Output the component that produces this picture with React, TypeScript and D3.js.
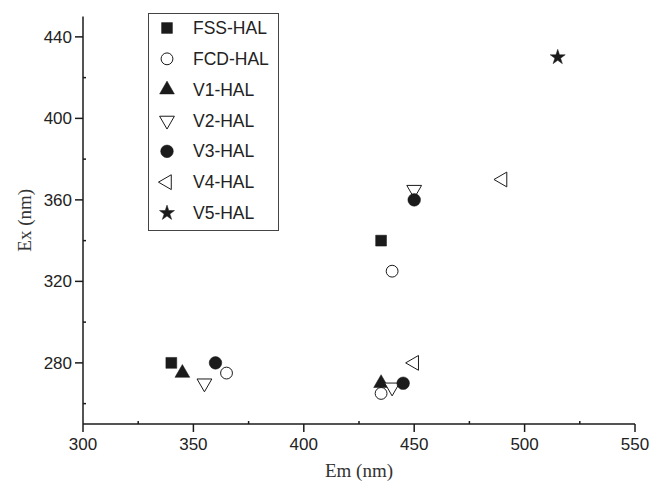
import React from "react";
import * as d3 from "d3";

// series: emission (x) / excitation (y) pairs
const seriesNames = ["FSS-HAL", "FCD-HAL", "V1-HAL", "V2-HAL", "V3-HAL", "V4-HAL", "V5-HAL"];
const emFSS = [340, 435];
const exFSS = [280, 340];
const emFCD = [365, 440, 435];
const exFCD = [275, 325, 265];
const emV1 = [345, 435];
const exV1 = [275, 270];
const emV2 = [355, 450, 440];
const exV2 = [270, 365, 268];
const emV3 = [360, 450, 445];
const exV3 = [280, 360, 270];
const emV4 = [490, 450];
const exV4 = [370, 280];
const emV5 = [515];
const exV5 = [430];

const xTicks = [300, 350, 400, 450, 500, 550];
const yTicks = [280, 320, 360, 400, 440];

const W = 655;
const H = 484;
const INK = "#1b1b1b";

type Marker = { type: d3.SymbolType; size: number; rotate: number; filled: boolean };
const markers: Marker[] = [
  { type: d3.symbolSquare, size: 118, rotate: 0, filled: true },
  { type: d3.symbolCircle, size: 110, rotate: 0, filled: false },
  { type: d3.symbolTriangle, size: 95, rotate: 0, filled: true },
  { type: d3.symbolTriangle, size: 95, rotate: 180, filled: false },
  { type: d3.symbolCircle, size: 125, rotate: 0, filled: true },
  { type: d3.symbolTriangle, size: 95, rotate: -90, filled: false },
  { type: d3.symbolStar, size: 70, rotate: 0, filled: true },
];

const series = [
  [emFSS, exFSS],
  [emFCD, exFCD],
  [emV1, exV1],
  [emV2, exV2],
  [emV3, exV3],
  [emV4, exV4],
  [emV5, exV5],
].map(([em, ex], i) => ({
  name: seriesNames[i],
  pts: em.map((e, j) => ({ em: e, ex: ex[j] })),
  m: markers[i],
}));

function Sym({ m, x, y }: { m: Marker; x: number; y: number }) {
  const d = d3.symbol().type(m.type).size(m.size)() as string;
  return (
    <path
      d={d}
      transform={`translate(${x},${y}) rotate(${m.rotate})`}
      fill={m.filled ? INK : "#fff"}
      stroke={INK}
      strokeWidth={m.filled ? 0.5 : 1}
    />
  );
}

export default function App() {
  const x = d3.scaleLinear().domain([300, 550]).range([83, 635]);
  const y = d3.scaleLinear().domain([250, 450]).range([424, 16.5]);
  const xMinor = d3.range(325, 550, 50);
  const yMinor = d3.range(260, 450, 40).filter((v) => !yTicks.includes(v));

  const legendY = d3.scalePoint<string>().domain(seriesNames).range([28, 213]);
  const axisFont = "'Liberation Sans', Arial, sans-serif";
  const titleFont = "'Liberation Serif', 'Times New Roman', serif";

  return (
    <svg
      width={W}
      height={H}
      style={{ position: "absolute", left: 0, top: 0, background: "#fff" }}
    >
      {/* axes */}
      <g stroke={INK} strokeWidth={1.5}>
        <line x1={x(300)} x2={x(550)} y1={y(250)} y2={y(250)} />
        <line x1={x(300)} x2={x(300)} y1={y(250)} y2={y(450)} />
        {xTicks.map((t) => (
          <line key={t} x1={x(t)} x2={x(t)} y1={y(250)} y2={y(250) + 8} />
        ))}
        {xMinor.map((t) => (
          <line key={t} x1={x(t)} x2={x(t)} y1={y(250)} y2={y(250) - 3} />
        ))}
        {yTicks.map((t) => (
          <line key={t} x1={x(300)} x2={x(300) - 8} y1={y(t)} y2={y(t)} />
        ))}
        {yMinor.map((t) => (
          <line key={t} x1={x(300)} x2={x(300) + 3} y1={y(t)} y2={y(t)} />
        ))}
      </g>
      <g fontFamily={axisFont} fontSize={17} fill="#222">
        {xTicks.map((t) => (
          <text key={t} x={x(t)} y={y(250) + 26} textAnchor="middle">
            {t}
          </text>
        ))}
        {yTicks.map((t) => (
          <text key={t} x={x(300) - 11} y={y(t) + 6} textAnchor="end">
            {t}
          </text>
        ))}
      </g>
      <text
        x={(x(300) + x(550)) / 2}
        y={477}
        textAnchor="middle"
        fontFamily={titleFont}
        fontSize={19}
        fill="#333"
      >
        Em (nm)
      </text>
      <text
        transform={`translate(31,${(y(250) + y(450)) / 2}) rotate(-90)`}
        textAnchor="middle"
        fontFamily={titleFont}
        fontSize={19}
        fill="#333"
      >
        Ex (nm)
      </text>

      {/* points */}
      {series.map((s) =>
        s.pts.map((p, j) => <Sym key={s.name + j} m={s.m} x={x(p.em)} y={y(p.ex)} />)
      )}

      {/* legend */}
      <rect x={148.5} y={13.5} width={130} height={217} fill="none" stroke="#444" strokeWidth={1} />
      {series.map((s) => (
        <g key={s.name}>
          <Sym m={s.m} x={167} y={legendY(s.name)!} />
          <text
            x={193}
            y={legendY(s.name)! + 6}
            fontFamily={axisFont}
            fontSize={17.5}
            fill="#222"
          >
            {s.name}
          </text>
        </g>
      ))}
    </svg>
  );
}
